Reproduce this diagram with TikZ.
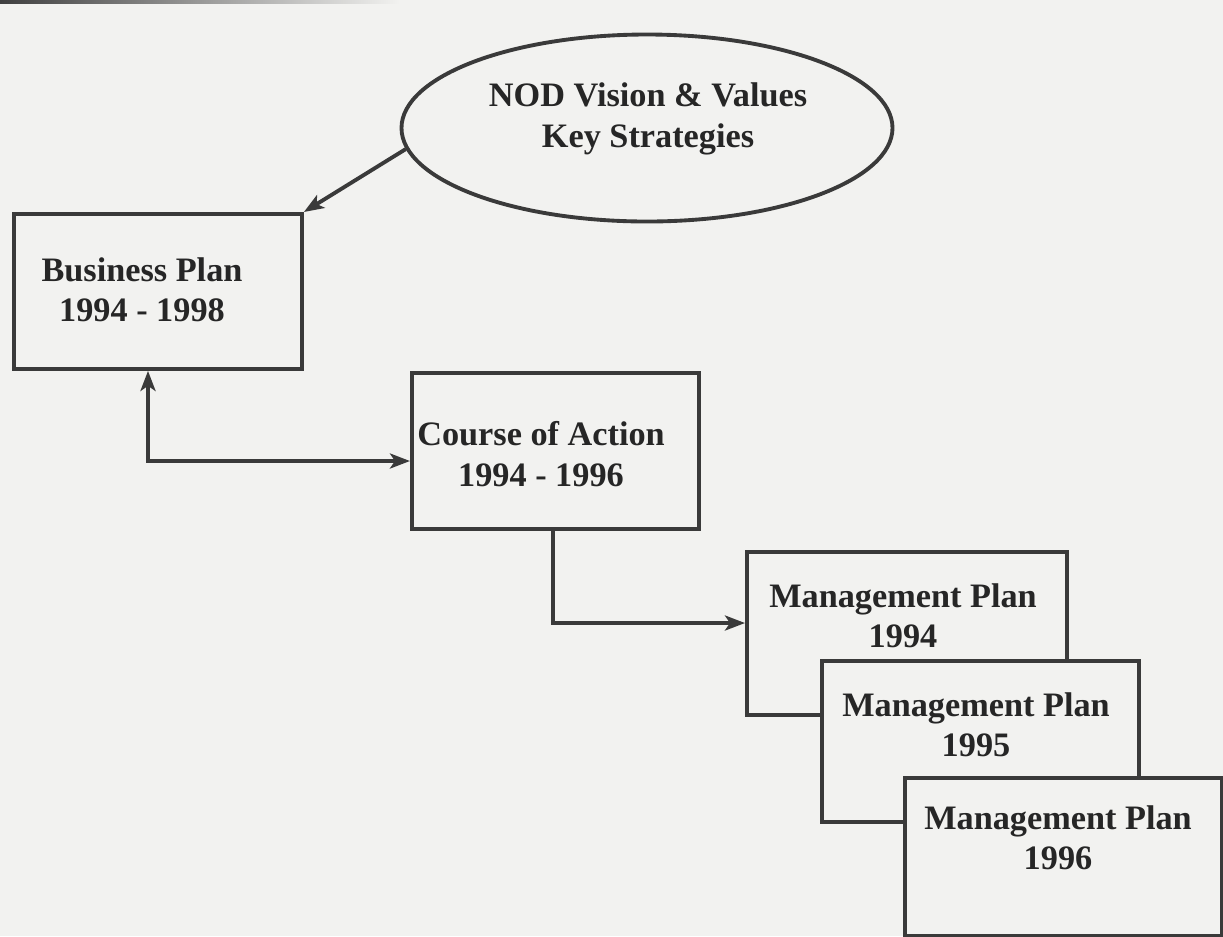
\documentclass[tikz,border=0pt]{standalone}
\usepackage{fontspec}
\setmainfont{Liberation Serif}
\usetikzlibrary{shapes.geometric,arrows.meta}
\definecolor{paper}{HTML}{F2F2F0}
\definecolor{ink}{HTML}{3A3A3A}
\begin{document}
\begin{tikzpicture}[
  plate/.style={draw=ink, line width=2.2pt, fill=paper, rectangle, anchor=north west, inner sep=0pt},
  oval/.style={draw=ink, line width=2.2pt, fill=paper, ellipse, inner sep=0pt},
  caption/.style={align=center, text=black!85, font=\bfseries\fontsize{19.5}{23}\selectfont, inner sep=0pt},
  link/.style={draw=ink, line width=2.2pt},
  tip/.style={-{Stealth[length=0.4cm,width=0.3cm,inset=0.1cm]}},
  twotip/.style={{Stealth[length=0.4cm,width=0.3cm,inset=0.1cm]}-{Stealth[length=0.4cm,width=0.3cm,inset=0.1cm]}}
]
% page
\fill[paper] (0,0) rectangle (24.46,-18.72);
\useasboundingbox (0,0) rectangle (24.46,-18.72);
\shade[left color=black!75, right color=paper] (0,0) rectangle (8,-0.07);

% vision ellipse
\node[oval, minimum width=9.82cm, minimum height=3.74cm] (vis) at (12.94,-2.56) {};
\node[caption] (vistext) at (12.96,-2.38) {NOD Vision \& Values\\Key Strategies};

% business plan
\node[plate, minimum width=5.76cm, minimum height=3.10cm] (bp) at (0.24,-4.24) {};
\node[caption] (bptext) at (2.84,-5.80) {Business Plan\\1994 - 1998};

% course of action
\node[plate, minimum width=5.74cm, minimum height=3.12cm] (co) at (8.20,-7.42) {};
\node[caption] (cotext) at (10.82,-9.08) {Course of Action\\1994 - 1996};

% management plans, stacked
\node[plate, minimum width=6.40cm, minimum height=3.26cm] (m4) at (14.90,-11.00) {};
\node[caption] (m4text) at (18.06,-12.32) {Management Plan\\1994};
\node[plate, minimum width=6.34cm, minimum height=3.22cm] (m5) at (16.40,-13.18) {};
\node[caption] (m5text) at (19.52,-14.50) {Management Plan\\1995};
\node[plate, minimum width=6.34cm, minimum height=3.16cm] (m6) at (18.06,-15.52) {};
\node[caption] (m6text) at (21.16,-16.76) {Management Plan\\1996};

% connectors
\coordinate (j1) at (2.96,-9.22);
\coordinate (j2) at (11.06,-12.46);
\draw[link, tip] (vis.185) -- (bp.north east);
\draw[link, twotip] (j1 |- bp.south) -- (j1) -- (j1 -| co.west);
\draw[link, tip] (j2 |- co.south) -- (j2) -- (j2 -| m4.west);
\end{tikzpicture}
\end{document}
